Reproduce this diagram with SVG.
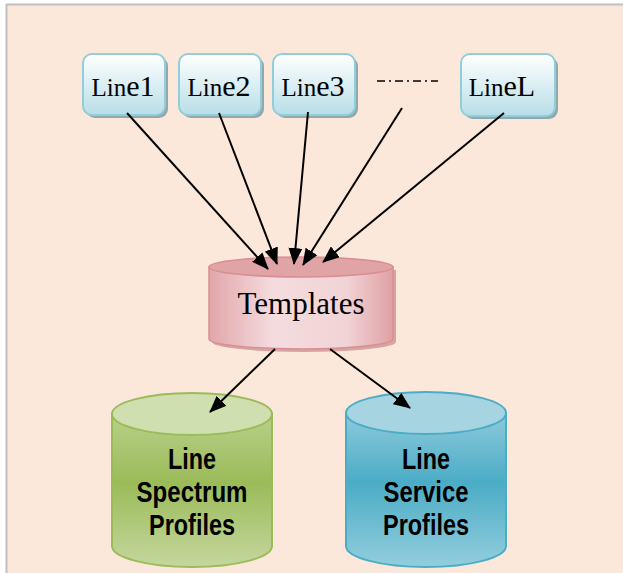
<svg xmlns="http://www.w3.org/2000/svg" width="623" height="573" viewBox="0 0 623 573">
<style>
.box{stroke:#92CDDC;stroke-width:2;fill:url(#gBox)}
.shadow{fill:#8FA9AD}
.lt{font-family:"Liberation Serif","Times New Roman",serif;fill:#000;text-anchor:middle}
.sm{font-size:25px}
.bg{font-size:30px}
.ct{font-family:"Liberation Sans",Arial,sans-serif;font-weight:bold;font-size:30px;fill:#000;text-anchor:middle}
.conn{stroke:#000;stroke-width:2;fill:none;marker-end:url(#ah)}
</style>
<defs>
<linearGradient id="gBox" x1="0" y1="0" x2="0" y2="1">
<stop offset="0" stop-color="#FFFFFF"/>
<stop offset="1" stop-color="#B7DEE8"/>
</linearGradient>
<linearGradient id="gTpl" x1="0" y1="0" x2="1" y2="0">
<stop offset="0" stop-color="#E2A6A9"/>
<stop offset="0.35" stop-color="#F4DCDE"/>
<stop offset="0.75" stop-color="#F1D3D5"/>
<stop offset="1" stop-color="#E0A0A3"/>
</linearGradient>
<linearGradient id="gGreen" x1="0" y1="0" x2="0" y2="1">
<stop offset="0" stop-color="#B9D08A"/>
<stop offset="0.45" stop-color="#9BBB59"/>
<stop offset="1" stop-color="#C4D79E"/>
</linearGradient>
<linearGradient id="gBlue" x1="0" y1="0" x2="0" y2="1">
<stop offset="0" stop-color="#8ECADB"/>
<stop offset="0.45" stop-color="#4BACC6"/>
<stop offset="1" stop-color="#93CEDD"/>
</linearGradient>
<marker id="ah" markerUnits="userSpaceOnUse" markerWidth="17" markerHeight="14" refX="16" refY="7" orient="auto">
<path d="M0,0 L17,7 L0,14 Z" fill="#000"/>
</marker>
</defs>

<rect x="6.5" y="4.5" width="640" height="600" fill="#FCE8DA" stroke="#C0C0C0" stroke-width="2"/>

<g id="line1">
<rect class="shadow" x="86" y="57" width="82" height="61" rx="9"/>
<rect class="box" x="83" y="54" width="82" height="61" rx="9"/>
<text class="lt" x="123" y="96"><tspan class="sm">Lin</tspan><tspan class="bg">e1</tspan></text>
</g>
<g id="line2">
<rect class="shadow" x="182" y="57" width="82" height="61" rx="9"/>
<rect class="box" x="179" y="54" width="82" height="61" rx="9"/>
<text class="lt" x="219" y="96"><tspan class="sm">Lin</tspan><tspan class="bg">e2</tspan></text>
</g>
<g id="line3">
<rect class="shadow" x="276" y="57" width="82" height="61" rx="9"/>
<rect class="box" x="273" y="54" width="82" height="61" rx="9"/>
<text class="lt" x="313" y="96"><tspan class="sm">Lin</tspan><tspan class="bg">e3</tspan></text>
</g>
<g id="ellipsis">
<line x1="377" y1="81" x2="438" y2="81" stroke="#000" stroke-width="1.5" stroke-dasharray="8 4 2 4"/>
</g>
<g id="lineL">
<rect class="shadow" x="464" y="57" width="94" height="62" rx="9"/>
<rect class="box" x="461" y="54" width="94" height="62" rx="9"/>
<text class="lt" x="502" y="96"><tspan class="sm">Lin</tspan><tspan class="bg">eL</tspan></text>
</g>

<g id="templates">
<path d="M212,270 L212,342 A92,10 0 0 0 396,342 L396,270 Z" fill="#C8878B" opacity="0.7"/>
<path d="M209,267 L209,339 A92,10 0 0 0 393,339 L393,267 Z" fill="url(#gTpl)" stroke="#D88E92" stroke-width="1.5"/>
<ellipse cx="301" cy="267" rx="92" ry="10" fill="#E0A3A6" stroke="#D88E92" stroke-width="1.5"/>
<text class="lt" x="301" y="314" font-size="31">Templates</text>
</g>

<g id="spectrum">
<path d="M112,414 L112,546 A80,21 0 0 0 272,546 L272,414 Z" fill="url(#gGreen)" stroke="#9BBB59" stroke-width="2"/>
<ellipse cx="192" cy="414" rx="80" ry="21" fill="#D0DFAF" stroke="#9BBB59" stroke-width="2"/>
<text class="ct" x="192" y="469" textLength="48" lengthAdjust="spacingAndGlyphs">Line</text>
<text class="ct" x="192" y="502" textLength="111" lengthAdjust="spacingAndGlyphs">Spectrum</text>
<text class="ct" x="192" y="535" textLength="86" lengthAdjust="spacingAndGlyphs">Profiles</text>
</g>

<g id="service">
<path d="M346,413 L346,546 A80,21 0 0 0 506,546 L506,413 Z" fill="url(#gBlue)" stroke="#4BACC6" stroke-width="2"/>
<ellipse cx="426" cy="413" rx="80" ry="21" fill="#A7D4E1" stroke="#4BACC6" stroke-width="2"/>
<text class="ct" x="426" y="469" textLength="48" lengthAdjust="spacingAndGlyphs">Line</text>
<text class="ct" x="426" y="502" textLength="85" lengthAdjust="spacingAndGlyphs">Service</text>
<text class="ct" x="426" y="535" textLength="86" lengthAdjust="spacingAndGlyphs">Profiles</text>
</g>

<g id="connectors">
<line class="conn" x1="127" y1="113" x2="268" y2="269"/>
<line class="conn" x1="219" y1="113" x2="277" y2="264"/>
<line class="conn" x1="308" y1="112" x2="294" y2="264"/>
<line class="conn" x1="402" y1="108" x2="303" y2="265"/>
<line class="conn" x1="504" y1="113" x2="323" y2="262"/>
<line class="conn" x1="275" y1="349" x2="210" y2="412"/>
<line class="conn" x1="330" y1="349" x2="410" y2="408"/>
</g>
</svg>
